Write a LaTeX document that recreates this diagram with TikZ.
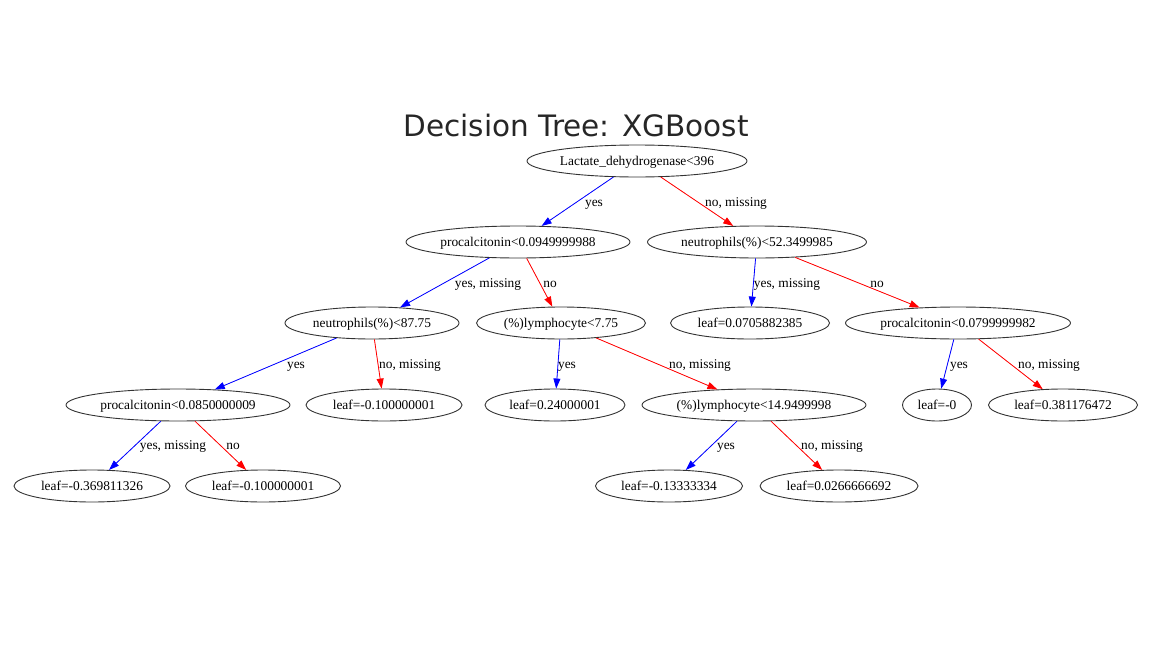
\documentclass[tikz,border=0pt]{standalone}
\usepackage{fontspec}
\setmainfont{Liberation Serif}
\newfontfamily\titlefont{DejaVu Sans}
\usetikzlibrary{arrows.meta,shapes.geometric}
\newcommand\zb[1]{\makebox[0pt]{#1}}
\definecolor{titlegray}{HTML}{262626}
\definecolor{edgeline}{HTML}{333333}
\begin{document}
\begin{tikzpicture}[x=1pt,y=-1pt,
  ell/.style={ellipse,draw=edgeline,line width=0.9pt,inner sep=0pt,minimum height=32pt,
    text height=10.5pt,text depth=1.5pt,font=\fontsize{13.4}{15}\selectfont},
  yesedge/.style={draw=blue,line width=0.8pt,-{Triangle[length=10pt,width=7pt]},fill=blue},
  noedge/.style={draw=red,line width=0.8pt,-{Triangle[length=10pt,width=7pt]},fill=red},
  elab/.style={anchor=base,inner sep=0pt,font=\fontsize{13.4}{15}\selectfont}]
\useasboundingbox (0,0) rectangle (1152,648);
\node[anchor=base,inner sep=0pt,text=titlegray,font=\titlefont\fontsize{29.5}{34}\selectfont] (title) at (576,136) {Decision Tree: XGBoost};
% level 1
\node[ell,minimum width=220pt] (n0) at (637,161) {\zb{Lactate\_dehydrogenase<396}};
% level 2
\node[ell,minimum width=224pt] (n1) at (518,242) {\zb{procalcitonin<0.0949999988}};
\node[ell,minimum width=219pt] (n2) at (757,242) {\zb{neutrophils(\%)<52.3499985}};
% level 3
\node[ell,minimum width=174pt] (n3) at (372,323) {\zb{neutrophils(\%)<87.75}};
\node[ell,minimum width=169pt] (n4) at (561,323) {\zb{(\%)lymphocyte<7.75}};
\node[ell,minimum width=159pt] (n5) at (750,323) {\zb{leaf=0.0705882385}};
\node[ell,minimum width=225pt] (n6) at (958,323) {\zb{procalcitonin<0.0799999982}};
% level 4
\node[ell,minimum width=224pt] (n7) at (178,405) {\zb{procalcitonin<0.0850000009}};
\node[ell,minimum width=156pt] (n8) at (384,405) {\zb{leaf=-0.100000001}};
\node[ell,minimum width=140pt] (n9) at (555,405) {\zb{leaf=0.24000001}};
\node[ell,minimum width=224pt] (n10) at (754,405) {\zb{(\%)lymphocyte<14.9499998}};
\node[ell,minimum width=69pt] (n11) at (937,405) {\zb{leaf=-0}};
\node[ell,minimum width=149pt] (n12) at (1063,405) {\zb{leaf=0.381176472}};
% level 5
\node[ell,minimum width=156pt] (n13) at (92,486) {\zb{leaf=-0.369811326}};
\node[ell,minimum width=155pt] (n14) at (263,486) {\zb{leaf=-0.100000001}};
\node[ell,minimum width=147pt] (n15) at (669,486) {\zb{leaf=-0.13333334}};
\node[ell,minimum width=158pt] (n16) at (839,486) {\zb{leaf=0.0266666692}};
% edges
\draw[yesedge] (n0) -- (n1);
\draw[noedge] (n0) -- (n2);
\draw[yesedge] (n1) -- (n3);
\draw[noedge] (n1) -- (n4);
\draw[yesedge] (n2) -- (n5);
\draw[noedge] (n2) -- (n6);
\draw[yesedge] (n3) -- (n7);
\draw[noedge] (n3) -- (n8);
\draw[yesedge] (n4) -- (n9);
\draw[noedge] (n4) -- (n10);
\draw[yesedge] (n6) -- (n11);
\draw[noedge] (n6) -- (n12);
\draw[yesedge] (n7) -- (n13);
\draw[noedge] (n7) -- (n14);
\draw[yesedge] (n10) -- (n15);
\draw[noedge] (n10) -- (n16);
% edge labels
\node[elab] (l1) at (594,206) {yes};
\node[elab] (l2) at (736,206) {no, missing};
\node[elab] (l3) at (488,287) {yes, missing};
\node[elab] (l4) at (550,287) {no};
\node[elab] (l5) at (787,287) {yes, missing};
\node[elab] (l6) at (877,287) {no};
\node[elab] (l7) at (296,368) {yes};
\node[elab] (l8) at (410,368) {no, missing};
\node[elab] (l9) at (567,368) {yes};
\node[elab] (l10) at (700,368) {no, missing};
\node[elab] (l11) at (959,368) {yes};
\node[elab] (l12) at (1049,368) {no, missing};
\node[elab] (l13) at (173,449) {yes, missing};
\node[elab] (l14) at (233,449) {no};
\node[elab] (l15) at (726,449) {yes};
\node[elab] (l16) at (832,449) {no, missing};
\end{tikzpicture}
\end{document}
